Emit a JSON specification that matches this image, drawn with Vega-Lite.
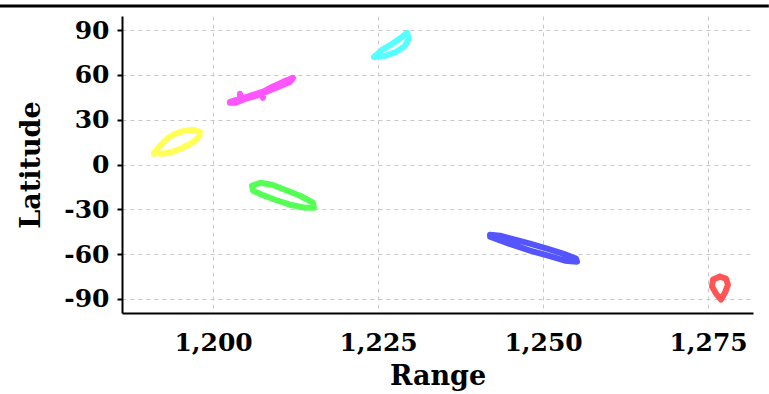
{
  "$schema": "https://vega.github.io/schema/vega-lite/v6.json",
  "autosize": {"type": "none"},
  "padding": {"left": 122, "top": 16, "right": 16, "bottom": 81},
  "width": 631,
  "height": 297,
  "config": {
    "font": "DejaVu Serif",
    "view": {"stroke": null},
    "axis": {
      "labelFont": "DejaVu Serif",
      "labelFontWeight": "bold",
      "labelFontSize": 25,
      "labelColor": "black",
      "titleFont": "DejaVu Serif",
      "titleFontWeight": "bold",
      "titleFontSize": 27,
      "titleColor": "black",
      "domainColor": "black",
      "domainWidth": 2,
      "gridColor": "#c8c8c8",
      "gridDash": [4, 4],
      "gridWidth": 1
    }
  },
  "datasets": {
    "loops": [
      {"g": "yellow", "i": 0, "range": 1191.05, "lat": 7.2},
      {"g": "yellow", "i": 1, "range": 1191.96, "lat": 12.5},
      {"g": "yellow", "i": 2, "range": 1193.0, "lat": 17.2},
      {"g": "yellow", "i": 3, "range": 1194.2, "lat": 20.5},
      {"g": "yellow", "i": 4, "range": 1195.6, "lat": 22.5},
      {"g": "yellow", "i": 5, "range": 1196.96, "lat": 23.2},
      {"g": "yellow", "i": 6, "range": 1198.0, "lat": 21.9},
      {"g": "yellow", "i": 7, "range": 1197.9, "lat": 18.5},
      {"g": "yellow", "i": 8, "range": 1196.8, "lat": 14.5},
      {"g": "yellow", "i": 9, "range": 1195.4, "lat": 11.2},
      {"g": "yellow", "i": 10, "range": 1193.9, "lat": 8.5},
      {"g": "yellow", "i": 11, "range": 1192.4, "lat": 7.2},
      {"g": "yellow", "i": 12, "range": 1191.05, "lat": 7.8},

      {"g": "magenta", "i": 0, "range": 1202.56, "lat": 41.9},
      {"g": "magenta", "i": 1, "range": 1204.08, "lat": 43.9},
      {"g": "magenta", "i": 2, "range": 1204.08, "lat": 47.3},
      {"g": "magenta", "i": 3, "range": 1204.23, "lat": 43.9},
      {"g": "magenta", "i": 4, "range": 1205.59, "lat": 45.9},
      {"g": "magenta", "i": 5, "range": 1207.41, "lat": 48.6},
      {"g": "magenta", "i": 6, "range": 1207.56, "lat": 44.6},
      {"g": "magenta", "i": 7, "range": 1207.56, "lat": 48.6},
      {"g": "magenta", "i": 8, "range": 1208.93, "lat": 51.95},
      {"g": "magenta", "i": 9, "range": 1210.59, "lat": 55.3},
      {"g": "magenta", "i": 10, "range": 1212.11, "lat": 57.97},
      {"g": "magenta", "i": 11, "range": 1211.65, "lat": 55.3},
      {"g": "magenta", "i": 12, "range": 1209.84, "lat": 51.95},
      {"g": "magenta", "i": 13, "range": 1208.02, "lat": 48.6},
      {"g": "magenta", "i": 14, "range": 1206.5, "lat": 45.9},
      {"g": "magenta", "i": 15, "range": 1204.84, "lat": 43.9},
      {"g": "magenta", "i": 16, "range": 1203.32, "lat": 41.25},
      {"g": "magenta", "i": 17, "range": 1202.56, "lat": 41.25},

      {"g": "cyan", "i": 0, "range": 1224.38, "lat": 72.0},
      {"g": "cyan", "i": 1, "range": 1225.59, "lat": 76.68},
      {"g": "cyan", "i": 2, "range": 1227.11, "lat": 80.69},
      {"g": "cyan", "i": 3, "range": 1228.62, "lat": 85.37},
      {"g": "cyan", "i": 4, "range": 1229.38, "lat": 88.04},
      {"g": "cyan", "i": 5, "range": 1229.68, "lat": 84.7},
      {"g": "cyan", "i": 6, "range": 1229.08, "lat": 79.35},
      {"g": "cyan", "i": 7, "range": 1227.71, "lat": 75.34},
      {"g": "cyan", "i": 8, "range": 1226.05, "lat": 72.67},
      {"g": "cyan", "i": 9, "range": 1224.38, "lat": 72.0},

      {"g": "green", "i": 0, "range": 1205.9, "lat": -14.22},
      {"g": "green", "i": 1, "range": 1207.11, "lat": -12.21},
      {"g": "green", "i": 2, "range": 1208.93, "lat": -13.55},
      {"g": "green", "i": 3, "range": 1210.9, "lat": -16.9},
      {"g": "green", "i": 4, "range": 1213.17, "lat": -20.91},
      {"g": "green", "i": 5, "range": 1215.14, "lat": -25.59},
      {"g": "green", "i": 6, "range": 1215.29, "lat": -28.93},
      {"g": "green", "i": 7, "range": 1213.93, "lat": -28.93},
      {"g": "green", "i": 8, "range": 1211.65, "lat": -26.92},
      {"g": "green", "i": 9, "range": 1209.38, "lat": -23.58},
      {"g": "green", "i": 10, "range": 1207.41, "lat": -20.24},
      {"g": "green", "i": 11, "range": 1206.05, "lat": -17.57},
      {"g": "green", "i": 12, "range": 1205.9, "lat": -14.22},

      {"g": "blue", "i": 0, "range": 1241.96, "lat": -46.98},
      {"g": "blue", "i": 1, "range": 1243.47, "lat": -47.64},
      {"g": "blue", "i": 2, "range": 1245.75, "lat": -50.32},
      {"g": "blue", "i": 3, "range": 1248.02, "lat": -52.99},
      {"g": "blue", "i": 4, "range": 1250.6, "lat": -56.33},
      {"g": "blue", "i": 5, "range": 1253.02, "lat": -59.68},
      {"g": "blue", "i": 6, "range": 1254.99, "lat": -63.02},
      {"g": "blue", "i": 7, "range": 1255.14, "lat": -65.02},
      {"g": "blue", "i": 8, "range": 1253.32, "lat": -64.36},
      {"g": "blue", "i": 9, "range": 1250.75, "lat": -61.01},
      {"g": "blue", "i": 10, "range": 1248.02, "lat": -57.67},
      {"g": "blue", "i": 11, "range": 1245.29, "lat": -53.66},
      {"g": "blue", "i": 12, "range": 1243.17, "lat": -50.32},
      {"g": "blue", "i": 13, "range": 1241.96, "lat": -48.31},
      {"g": "blue", "i": 14, "range": 1241.96, "lat": -46.98},

      {"g": "red", "i": 0, "range": 1276.8, "lat": -75.05},
      {"g": "red", "i": 1, "range": 1277.71, "lat": -76.38},
      {"g": "red", "i": 2, "range": 1278.01, "lat": -80.4},
      {"g": "red", "i": 3, "range": 1277.56, "lat": -85.74},
      {"g": "red", "i": 4, "range": 1276.96, "lat": -90.41},
      {"g": "red", "i": 5, "range": 1276.2, "lat": -86.41},
      {"g": "red", "i": 6, "range": 1275.59, "lat": -81.73},
      {"g": "red", "i": 7, "range": 1275.74, "lat": -77.05},
      {"g": "red", "i": 8, "range": 1276.8, "lat": -75.05}
    ],
    "topline": [{"x1": 1167.7, "x2": 1284.2, "y": 106.1}]
  },
  "layer": [
    {
      "data": {"name": "loops"},
      "mark": {"type": "line", "strokeWidth": 6, "strokeCap": "round", "strokeJoin": "round"},
      "encoding": {
        "x": {
          "field": "range", "type": "quantitative", "title": "Range",
          "scale": {"domain": [1186.2, 1281.8], "nice": false, "zero": false},
          "axis": {"values": [1200, 1225, 1250, 1275], "format": ",", "ticks": false, "labelPadding": 17, "titlePadding": 8}
        },
        "y": {
          "field": "lat", "type": "quantitative", "title": "Latitude",
          "scale": {"domain": [-99.4, 99.4], "nice": false, "zero": false},
          "axis": {
            "values": [-90, -60, -30, 0, 30, 60, 90],
            "labelExpr": "datum.value < 0 ? '-' + abs(datum.value) : '' + datum.value",
            "tickColor": "black", "tickWidth": 2, "tickSize": 5, "labelPadding": 8, "titlePadding": 18
          }
        },
        "detail": {"field": "g"},
        "order": {"field": "i", "type": "quantitative"},
        "color": {
          "field": "g", "type": "nominal", "legend": null,
          "scale": {
            "domain": ["yellow", "magenta", "cyan", "green", "blue", "red"],
            "range": ["#ffff55", "#ff55ff", "#55ffff", "#55ff55", "#5555ff", "#ff5555"]
          }
        }
      }
    },
    {
      "data": {"name": "topline"},
      "mark": {"type": "rule", "color": "black", "strokeWidth": 3, "clip": false},
      "encoding": {
        "x": {"field": "x1", "type": "quantitative"},
        "x2": {"field": "x2"},
        "y": {"field": "y", "type": "quantitative"}
      }
    }
  ]
}
